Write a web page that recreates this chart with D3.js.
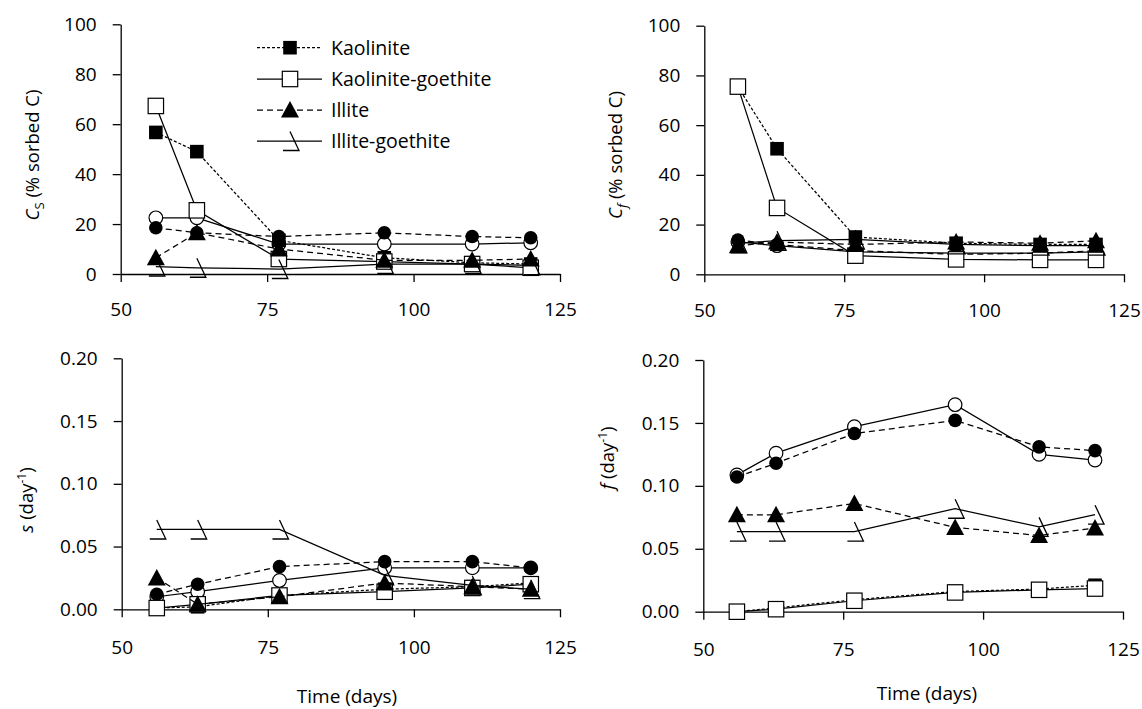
<!DOCTYPE html>
<html><head><meta charset="utf-8">
<script src="https://cdn.jsdelivr.net/npm/d3@7"></script>
<style>
body{margin:0;background:#fff}
text{font-family:"Open Sans",Lato,sans-serif;fill:#000}
</style>
</head><body>
<svg id="chart" width="1142" height="709"></svg>
<script>
// ---------- data ----------
const days = [56, 63, 77, 95, 110, 120];
const xTicks = [50, 75, 100, 125];
const pctTicks = [0, 20, 40, 60, 80, 100];
const rateTicks = [0, 0.05, 0.10, 0.15, 0.20];
const legendNames = ["Kaolinite", "Kaolinite-goethite", "Illite", "Illite-goethite"];

// Cs (% sorbed C)
const kaoCs = [56.7, 49, 13.5, 6.5, 4.5, 4];
const kgCs  = [67.3, 25.5, 6, 5, 4, 2.5];
const illCs = [6.5, 16.5, 10, 5.5, 5.5, 6];
const igCs  = [3, 2.5, 2, 4, 4, 3.5];
const fcCs  = [18.5, 16.5, 15, 16.5, 15, 14.5];
const ocCs  = [22.5, 22.5, 12, 12, 12, 12.5];

// Cf (% sorbed C)
const kaoCf = [75.5, 50.5, 15, 12.5, 12, 12];
const kgCf  = [75.5, 26.7, 7.5, 6, 5.8, 5.8];
const illCf = [11.5, 13, 12, 13, 12.5, 13.5];
const igCf  = [12.5, 13.5, 14, 12, 11.5, 11.5];
const fcCf  = [13.8, 12, 9.5, 8, 8.5, 9.5];
const ocCf  = [13, 11.5, 9, 8.5, 8.5, 9];

// s (day^-1)
const kaoS = [0.001, 0.002, 0.011, 0.016, 0.018, 0.021];
const kgS  = [0.001, 0.004, 0.011, 0.014, 0.017, 0.020];
const illS = [0.025, 0.004, 0.010, 0.021, 0.018, 0.016];
const igS  = [0.0636, 0.0636, 0.0636, 0.027, 0.019, 0.016];
const fcS  = [0.012, 0.020, 0.034, 0.038, 0.038, 0.033];
const ocS  = [0.010, 0.014, 0.023, 0.033, 0.033, 0.033];

// f (day^-1)
const kaoF = [0, 0.003, 0.0095, 0.016, 0.018, 0.021];
const kgF  = [0, 0.002, 0.0087, 0.0153, 0.0174, 0.0184];
const illF = [0.077, 0.077, 0.086, 0.067, 0.0605, 0.0666];
const igF  = [0.0637, 0.0637, 0.0637, 0.0818, 0.0674, 0.0771];
const fcF  = [0.107, 0.118, 0.1416, 0.152, 0.131, 0.128];
const ocF  = [0.1087, 0.126, 0.147, 0.1645, 0.125, 0.1205];

// ---------- styles ----------
const styles = {
  fc:  {marker: "circleFilled", dash: "6,4"},
  oc:  {marker: "circleOpen",   dash: null},
  kao: {marker: "squareFilled", dash: "3,2"},
  kg:  {marker: "squareOpen",   dash: null},
  ill: {marker: "triFilled",    dash: "6,4"},
  ig:  {marker: "slash",        dash: null}
};
const order = ["oc", "fc", "kao", "kg", "ill", "ig"];
const FONT = "'Open Sans', Lato, sans-serif";

const svg = d3.select("#chart");

function drawMarker(g, type, x, y) {
  const m = g.append("g").attr("transform", `translate(${x},${y})`);
  if (type === "circleFilled") m.append("circle").attr("r", 6.8).attr("fill", "#000");
  else if (type === "circleOpen") m.append("circle").attr("r", 6.8).attr("fill", "#fff").attr("stroke", "#000").attr("stroke-width", 1.2);
  else if (type === "squareFilled") m.append("rect").attr("x", -6.8).attr("y", -6.8).attr("width", 13.6).attr("height", 13.6).attr("fill", "#000");
  else if (type === "squareOpen") m.append("rect").attr("x", -7.7).attr("y", -7.7).attr("width", 15.4).attr("height", 15.4).attr("fill", "#fff").attr("stroke", "#000").attr("stroke-width", 1.2);
  else if (type === "triFilled") m.append("path").attr("d", "M0,-9 L9,7.5 L-9,7.5 Z").attr("fill", "#000");
  else if (type === "slash") m.append("path").attr("d", "M-7,9.5 L9,9.5 L0,-9.5").attr("fill", "none").attr("stroke", "#000").attr("stroke-width", 1.3);
}

function panel(cfg) {
  const x = d3.scaleLinear().domain([50, 125]).range([cfg.x0, cfg.x1]);
  const y = d3.scaleLinear().domain(cfg.domain).range([cfg.yBot, cfg.yTop]);
  const g = svg.append("g");

  const ya = g.append("g").attr("transform", `translate(${cfg.x0},0)`)
    .call(d3.axisLeft(y).tickValues(cfg.yTicks).tickFormat(cfg.fmt).tickSize(8).tickSizeOuter(0).tickPadding(16));
  const xa = g.append("g").attr("transform", `translate(0,${cfg.yBot})`)
    .call(d3.axisBottom(x).tickValues(xTicks).tickFormat(d3.format("d")).tickSize(8).tickSizeOuter(0).tickPadding(cfg.xPad));
  [ya, xa].forEach(a => {
    a.select(".domain").attr("stroke", "#000").attr("stroke-width", 1.3);
    a.selectAll(".tick line").attr("stroke", "#000").attr("stroke-width", 1.3);
    a.selectAll(".tick text").style("font-size", "19px").style("font-family", FONT).attr("fill", "#000");
  });
  const line = d3.line().x((d, i) => x(days[i])).y(d => y(d));
  order.forEach(k => {
    const vals = cfg.data[k];
    const st = styles[k];
    g.append("path").attr("d", line(vals)).attr("fill", "none").attr("stroke", "#000")
      .attr("stroke-width", 1.25).attr("stroke-dasharray", st.dash);
    vals.forEach((v, i) => drawMarker(g, st.marker, x(days[i]), y(v)));
  });

  const t = g.append("text").attr("transform", `translate(${cfg.titleX},${cfg.titleY}) rotate(-90)`)
    .attr("text-anchor", "middle").style("font-size", "18.5px");
  cfg.title(t);
  if (cfg.xlabel) {
    g.append("text").attr("x", cfg.xlabelX).attr("y", cfg.xlabelY).attr("text-anchor", "middle")
      .style("font-size", "19px").text("Time (days)");
  }
  return g;
}

panel({
  x0: 120.7, x1: 560, yTop: 24.3, yBot: 274, domain: [0, 100], yTicks: pctTicks, fmt: d3.format("d"), xPad: 21,
  data: {kao: kaoCs, kg: kgCs, ill: illCs, ig: igCs, fc: fcCs, oc: ocCs},
  titleX: 39, titleY: 155,
  title: t => { t.append("tspan").style("font-style", "italic").text("C");
                t.append("tspan").attr("dy", 5).style("font-size", "13px").text("S");
                t.append("tspan").attr("dy", -5).text(" (% sorbed C)"); }
});
panel({
  x0: 704.3, x1: 1124, yTop: 25.7, yBot: 274.3, domain: [0, 100], yTicks: pctTicks, fmt: d3.format("d"), xPad: 21,
  data: {kao: kaoCf, kg: kgCf, ill: illCf, ig: igCf, fc: fcCf, oc: ocCf},
  titleX: 622, titleY: 155,
  title: t => { t.append("tspan").style("font-style", "italic").text("C");
                t.append("tspan").attr("dy", 5).style("font-size", "13px").style("font-style", "italic").text("f");
                t.append("tspan").attr("dy", -5).text(" (% sorbed C)"); }
});
panel({
  x0: 121.7, x1: 560, yTop: 358.3, yBot: 609.3, domain: [0, 0.2], yTicks: rateTicks, fmt: d3.format(".2f"), xPad: 23,
  data: {kao: kaoS, kg: kgS, ill: illS, ig: igS, fc: fcS, oc: ocS},
  titleX: 33, titleY: 500, xlabel: true, xlabelX: 347, xlabelY: 703,
  title: t => { t.append("tspan").style("font-style", "italic").text("s");
                t.append("tspan").text(" (day");
                t.append("tspan").attr("dy", -7).style("font-size", "12px").text("-1");
                t.append("tspan").attr("dy", 7).text(")"); }
});
panel({
  x0: 703.3, x1: 1123, yTop: 360, yBot: 611.7, domain: [0, 0.2], yTicks: rateTicks, fmt: d3.format(".2f"), xPad: 23,
  data: {kao: kaoF, kg: kgF, ill: illF, ig: igF, fc: fcF, oc: ocF},
  titleX: 614, titleY: 458, xlabel: true, xlabelX: 927, xlabelY: 700,
  title: t => { t.append("tspan").style("font-style", "italic").text("f");
                t.append("tspan").text(" (day");
                t.append("tspan").attr("dy", -7).style("font-size", "12px").text("-1");
                t.append("tspan").attr("dy", 7).text(")"); }
});

// ---------- legend (panel 1) ----------
const legKeys = ["kao", "kg", "ill", "ig"];
const legRows = [47.7, 79, 110, 141];
const leg = svg.append("g");
legendNames.forEach((name, i) => {
  const st = styles[legKeys[i]];
  const yy = legRows[i];
  leg.append("line").attr("x1", 257).attr("x2", 322).attr("y1", yy).attr("y2", yy)
    .attr("stroke", "#000").attr("stroke-width", 1.25).attr("stroke-dasharray", st.dash);
  drawMarker(leg, st.marker, 290, yy);
  leg.append("text").attr("x", 331).attr("y", yy).attr("dy", "0.35em").style("font-size", "19.5px").text(name);
});
</script>
</body></html>
